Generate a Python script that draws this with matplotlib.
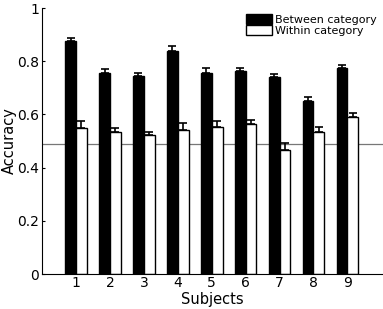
import numpy as np
import matplotlib
matplotlib.use('Agg')
import matplotlib.pyplot as plt

subjects = [1, 2, 3, 4, 5, 6, 7, 8, 9]
between = [0.875, 0.755, 0.745, 0.840, 0.755, 0.763, 0.742, 0.649, 0.773]
between_err = [0.013, 0.016, 0.012, 0.016, 0.020, 0.011, 0.010, 0.015, 0.012]
within = [0.550, 0.535, 0.524, 0.543, 0.553, 0.563, 0.466, 0.535, 0.589]
within_err = [0.026, 0.015, 0.010, 0.025, 0.024, 0.018, 0.025, 0.018, 0.018]
chance = 0.488
ytick_labels = ['0', '0.2', '0.4', '0.6', '0.8', '1']

plt.rcParams['font.family'] = ['DejaVu Sans']

fig = plt.figure(figsize=(3.83, 3.09), dpi=100)
ax = fig.add_axes([0.11, 0.113, 0.89, 0.861])

x = np.array(subjects)
w = 0.32
ax.bar(x - w / 2, between, w, color='black', edgecolor='black', linewidth=1,
       yerr=[np.zeros(len(between)), between_err], capsize=3,
       error_kw=dict(ecolor='black', elinewidth=1.2, capthick=1.2),
       label='Between category')
ax.bar(x + w / 2, within, w, color='white', edgecolor='black', linewidth=1,
       yerr=[np.zeros(len(within)), within_err], capsize=3,
       error_kw=dict(ecolor='black', elinewidth=1.2, capthick=1.2),
       label='Within category')
ax.axhline(chance, color='#777777', linewidth=0.9, zorder=0)

ax.set_xlim(0, 10.05)
ax.set_ylim(0, 1)
ax.set_xticks(subjects)
ax.set_yticks([0, 0.2, 0.4, 0.6, 0.8, 1])
ax.set_yticklabels(ytick_labels)
ax.tick_params(axis='x', length=0, labelsize=10, pad=1.5)
ax.tick_params(axis='y', direction='in', length=2, labelsize=10, pad=2)
ax.spines['top'].set_visible(False)
ax.spines['right'].set_visible(False)
ax.set_xlabel('Subjects', fontsize=10.5)
ax.xaxis.set_label_coords(0.5, -0.066)
ax.set_ylabel('Accuracy', fontsize=10.5)
ax.yaxis.set_label_coords(-0.075, 0.5)

ax.legend(loc='upper right', frameon=False, fontsize=8, handlelength=2.4,
          handleheight=1.0, handletextpad=0.2, labelspacing=0.0,
          borderpad=0.2, borderaxespad=0.1, bbox_to_anchor=(0.99, 0.99))

fig.savefig('out.png', dpi=100)
